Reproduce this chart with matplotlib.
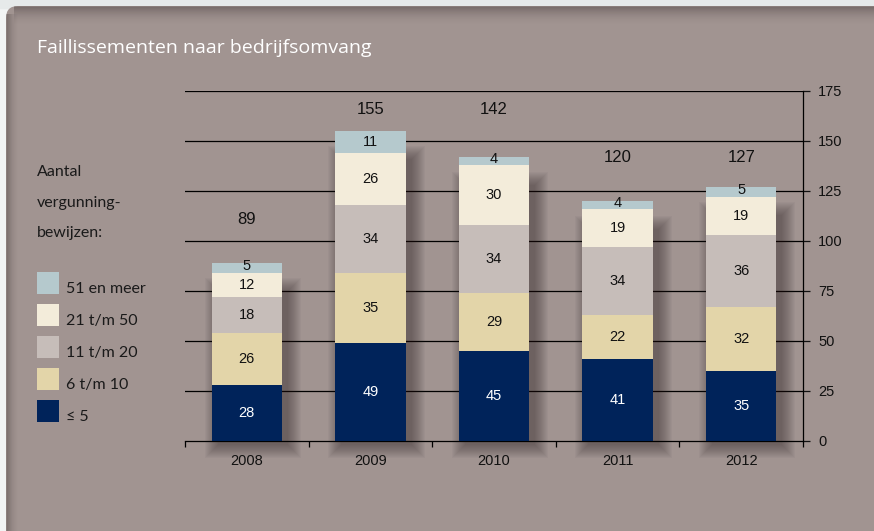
import numpy as np
import matplotlib
matplotlib.use('Agg')
import matplotlib.pyplot as plt
from matplotlib.patches import FancyBboxPatch, Rectangle

# data
jaren = ['2008', '2009', '2010', '2011', '2012']
klassen = ['≤ 5', '6 t/m 10', '11 t/m 20', '21 t/m 50', '51 en meer']
tot5 = [28, 49, 45, 41, 35]
tot10 = [26, 35, 29, 22, 32]
tot20 = [18, 34, 34, 34, 36]
tot50 = [12, 26, 30, 19, 19]
meer51 = [5, 11, 4, 4, 5]
totalen = [89, 155, 142, 120, 127]
# hoogte van de totaal-labels (in y-waarden)
label_y = [111, 166, 166, 142, 142]

kleuren = ['#00235a', '#e3d5a9', '#c6bdb9', '#f3ecda', '#b5c9cd']
tekstkleur = ['white', '#111111', '#111111', '#111111', '#111111']
achtergrond = '#a19491'

W, H = 874, 531
fig = plt.figure(figsize=(W / 100, H / 100), dpi=100)
fig.patch.set_facecolor('#f2f4f4')

bg = fig.add_axes([0, 0, 1, 1])
bg.set_xlim(0, W)
bg.set_ylim(H, 0)
bg.axis('off')
bg.add_patch(Rectangle((0, 0), W, 8, color='#e6eaea', zorder=0))
bg.add_patch(FancyBboxPatch((6, 6), W + 40, H + 40,
                            boxstyle='round,pad=0,rounding_size=12',
                            facecolor=achtergrond, edgecolor='none', zorder=1))
# schaduw binnenkant (boven en links)
for i in range(18):
    a = 0.22 * (1 - i / 18) ** 2
    bg.add_patch(Rectangle((14, 6 + i), W, 1.5, facecolor='#3a3030',
                           edgecolor='none', alpha=a, zorder=2))
for i in range(12):
    a = 0.2 * (1 - i / 12) ** 2
    bg.add_patch(Rectangle((6 + i, 14), 1.5, H, facecolor='#3a3030',
                           edgecolor='none', alpha=a, zorder=2))

fig.text(37 / W, 1 - 48 / H, 'Faillissementen naar bedrijfsomvang',
         color='white', fontsize=14, family='Open Sans', va='center')

ax = fig.add_axes([185 / W, 90 / H, 618 / W, 350 / H])
ax.set_facecolor('none')
ax.set_xlim(-0.5, 4.5)
ax.set_ylim(0, 175)

x = np.arange(len(jaren))
breedte = 0.57
reeksen = [tot5, tot10, tot20, tot50, meer51]

# zachte schaduw achter de balken
pxx = 1 / 123.6
pxy = 0.5
for j in range(len(jaren)):
    for k in range(14):
        grow = k * 1.0
        ax.add_patch(Rectangle((x[j] - breedte / 2 + (6 - grow) * pxx,
                                -(4 + grow) * pxy),
                               breedte + 2 * grow * pxx,
                               totalen[j] - 8 * pxy + 2 * grow * pxy - 8,
                               facecolor='#2a2020', edgecolor='none',
                               alpha=0.035, zorder=2, clip_on=False))

for v in [25, 50, 75, 100, 125, 150, 175]:
    ax.axhline(v, color='black', lw=0.9, zorder=1)

onder = np.zeros(len(jaren))
for i, reeks in enumerate(reeksen):
    ax.bar(x, reeks, breedte, bottom=onder, color=kleuren[i], zorder=3,
           label=klassen[i])
    for j, v in enumerate(reeks):
        if v >= 8:
            yy = onder[j] + v / 2
        else:
            yy = onder[j] + v / 2 + 1
        ax.text(x[j], yy, str(v), ha='center', va='center', fontsize=10.5,
                color=tekstkleur[i], family='Liberation Sans', zorder=4)
    onder += np.array(reeks)

for j in range(len(jaren)):
    ax.text(x[j], label_y[j], str(totalen[j]), ha='center', va='center',
            fontsize=12, color='#111111', family='Liberation Sans')

# assen
for s in ['top', 'left']:
    ax.spines[s].set_visible(False)
ax.spines['right'].set_color('black')
ax.spines['bottom'].set_color('black')
ax.spines['right'].set_linewidth(0.9)
ax.spines['bottom'].set_linewidth(0.9)
ax.yaxis.tick_right()
ax.set_yticks([0, 25, 50, 75, 100, 125, 150, 175])
ax.tick_params(axis='y', length=5, width=0.9, pad=6, labelsize=10.5,
               colors='#111111')
ax.set_xticks(np.arange(-0.5, 5, 1))
ax.set_xticklabels([])
ax.tick_params(axis='x', length=4, width=0.9, direction='out')
for j, jaar in enumerate(jaren):
    ax.text(x[j], -10, jaar, ha='center', va='center', fontsize=10.5,
            color='#111111', family='Liberation Sans')
for lab in ax.get_yticklabels():
    lab.set_family('Liberation Sans')

# legenda
fig.text(37 / W, 1 - 172 / H, 'Aantal', fontsize=11.5, family='Lato',
         color='#1a1a1a', va='center')
fig.text(37 / W, 1 - 203 / H, 'vergunning-', fontsize=11.5, family='Lato',
         color='#1a1a1a', va='center')
fig.text(37 / W, 1 - 233 / H, 'bewijzen:', fontsize=11.5, family='Lato',
         color='#1a1a1a', va='center')
leg_y = [411, 379, 347, 315, 283]
for i in range(len(klassen)):
    bg.add_patch(Rectangle((37, leg_y[i] - 11), 22, 22, facecolor=kleuren[i],
                           edgecolor='none', zorder=3))
    bg.text(66, leg_y[i] + 6, klassen[i], fontsize=11.5, family='Lato',
            color='#1a1a1a', va='center', zorder=3)

fig.savefig('out.png', dpi=100, facecolor=fig.get_facecolor())
